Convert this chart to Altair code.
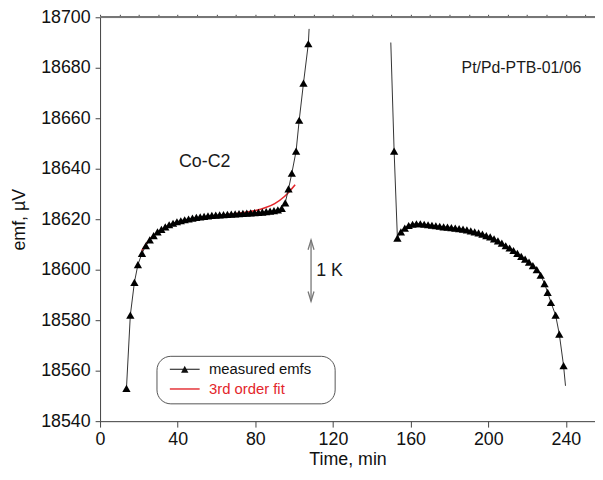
import altair as alt
import pandas as pd

FONT = "Liberation Sans"
RED = "#e3262b"

# ---- measured emfs, first segment (Co-C2 melt), time in min / emf in µV ----
left_t = [13.6, 15.6, 17.7, 19.5, 21.6, 23.6, 25.6, 27.6, 29.6, 31.6, 33.6, 35.6,
          37.6, 39.6, 41.6, 43.6, 45.6, 47.6, 49.6, 51.6, 53.6, 55.6, 57.6, 59.6,
          61.6, 63.6, 65.6, 67.6, 69.6, 71.6, 73.6, 75.6, 77.6, 79.6, 81.6, 83.6,
          85.6, 87.6, 89.6, 91.6, 93.6, 95.4, 97.1, 98.8, 101.0, 102.6, 104.8, 107.3]
left_emf = [18553, 18582, 18595, 18602, 18606.5, 18609.5, 18611.8, 18613.5, 18615,
            18616, 18617, 18617.8, 18618.4, 18619, 18619.4, 18619.8, 18620.1, 18620.4,
            18620.7, 18620.9, 18621.1, 18621.3, 18621.5, 18621.6, 18621.7, 18621.8,
            18621.9, 18622, 18622.1, 18622.2, 18622.3, 18622.4, 18622.5, 18622.6,
            18622.7, 18622.8, 18623, 18623.2, 18623.4, 18623.7, 18624.3, 18626.5,
            18632, 18638.2, 18647, 18659.2, 18673.9, 18689.5]
left_tail_t = [107.7]
left_tail_emf = [18695.4]

# ---- measured emfs, second segment (freeze) ----
right_t = [151.5, 153.2, 155.0, 157.0, 159.0, 161.0, 163.0, 165.0, 167.0, 169.0,
           171.0, 173.0, 175.0, 177.0, 179.0, 181.0, 183.0, 185.0, 187.0, 189.0,
           191.0, 193.0, 195.0, 197.0, 199.0, 201.0, 203.0, 205.0, 207.0, 209.0,
           211.0, 213.0, 215.0, 217.0, 219.0, 221.0, 223.0, 225.0, 227.0, 229.0,
           230.6, 232.3, 234.7, 236.6, 238.8]
right_emf = [18647, 18612.5, 18615, 18616.5, 18617.5, 18618, 18618.2, 18618.2, 18618,
             18617.8, 18617.6, 18617.4, 18617.2, 18617, 18616.9, 18616.7, 18616.5,
             18616.3, 18616.1, 18615.8, 18615.4, 18615, 18614.6, 18614.1, 18613.5,
             18613, 18612.2, 18611.4, 18610.5, 18609.5, 18608.6, 18607.6, 18606.5,
             18605.3, 18604.2, 18603, 18601.6, 18600, 18597.8, 18594.5, 18591, 18587,
             18582, 18574.5, 18562]
right_head_t = [149.8]
right_head_emf = [18690]
right_tail_t = [239.8]
right_tail_emf = [18554]

# ---- 3rd order fit ----
fit_t = [21.5, 25, 30, 35, 40, 45, 50, 55, 60, 65, 70, 75, 80, 85, 90, 95, 100.5]
fit_emf = [18607.5, 18611.5, 18615, 18617.3, 18618.8, 18619.8, 18620.5, 18621,
           18621.4, 18621.8, 18622.2, 18622.7, 18623.4, 18624.5, 18626.2, 18629, 18633.7]

# ---- axes ----
x_major = [0, 40, 80, 120, 160, 200, 240]
x_minor = list(range(0, 256, 10))
y_major = list(range(18540, 18701, 20))
y_minor = list(range(18540, 18701, 10))

# ---- annotations ----
series_names = ["measured emfs", "3rd order fit"]
ann_text = ["Co-C2", "Pt/Pd-PTB-01/06"]
ann_t = [53.9, 217.1]
ann_emf = [18642.5, 18679.7]
ann_size = [18, 16]
k_text = ["1 K"]
k_t = [111.4]
k_emf = [18599.3]
arrow_t = [108.7]
arrow_lo = [18587.5]
arrow_hi = [18611.8]

# ---- tables ----
line_df = pd.concat([
    pd.DataFrame({"t": left_t + left_tail_t, "emf": left_emf + left_tail_emf, "seg": "a"}),
    pd.DataFrame({"t": right_head_t + right_t + right_tail_t,
                  "emf": right_head_emf + right_emf + right_tail_emf, "seg": "b"}),
])
marker_df = pd.DataFrame({"t": left_t + right_t, "emf": left_emf + right_emf})
fit_df = pd.DataFrame({"t": fit_t, "emf": fit_emf})
ann_df = pd.DataFrame({"t": ann_t, "emf": ann_emf, "label": ann_text, "fs": ann_size})
k_df = pd.DataFrame({"t": k_t, "emf": k_emf, "label": k_text})
arrow_df = pd.DataFrame({"t": arrow_t, "lo": arrow_lo, "hi": arrow_hi})
legend_df = pd.DataFrame({"series": series_names})

xs = alt.Scale(domain=[0, 255], nice=False, zero=False)
ys = alt.Scale(domain=[18540, 18700], nice=False, zero=False)
AX = "#444"

x_axis_major = alt.Axis(values=x_major, title="Time, min", grid=False, tickSize=6,
                        labelFontSize=18, titleFontSize=18, labelFont=FONT, titleFont=FONT,
                        titleFontWeight="normal", labelColor="#111", titleColor="#111",
                        domainColor=AX, tickColor=AX, labelPadding=4, titlePadding=2,
                        labelFlush=False)
y_axis_major = alt.Axis(values=y_major, title="emf, µV", grid=False, tickSize=5,
                        labelFontSize=18, titleFontSize=18, labelFont=FONT, titleFont=FONT,
                        titleFontWeight="normal", labelColor="#111", titleColor="#111",
                        domainColor=AX, tickColor=AX, labelPadding=5, titlePadding=12,
                        labelFlush=False, format="d")
x_axis_minor = alt.Axis(values=x_minor, title=None, labels=False, domain=False, grid=False,
                        tickSize=3, tickColor=AX)
y_axis_minor = alt.Axis(values=y_minor, title=None, labels=False, domain=False, grid=False,
                        tickSize=3, tickColor=AX)

lines = alt.Chart(line_df).mark_line(color="#333", strokeWidth=1).encode(
    x=alt.X("t:Q", scale=xs, axis=x_axis_major),
    y=alt.Y("emf:Q", scale=ys, axis=y_axis_major),
    detail="seg:N",
)
markers = alt.Chart(marker_df).mark_point(shape="triangle-up", filled=True, size=70,
                                          color="black", opacity=1).encode(
    x=alt.X("t:Q", scale=xs, axis=x_axis_minor),
    y=alt.Y("emf:Q", scale=ys, axis=y_axis_minor),
)
fit = alt.Chart(fit_df).mark_line(color=RED, strokeWidth=1.6, interpolate="monotone").encode(
    x=alt.X("t:Q", scale=xs, axis=None),
    y=alt.Y("emf:Q", scale=ys, axis=None),
)
top_border = alt.Chart(fit_df).mark_rule(color="#777", strokeWidth=1.4).encode(
    y=alt.YDatum(18700, scale=ys, axis=None),
)
ann = alt.Chart(ann_df).mark_text(font=FONT, color="#1a1a1a", align="center",
                                  baseline="middle").encode(
    x=alt.X("t:Q", scale=xs, axis=None),
    y=alt.Y("emf:Q", scale=ys, axis=None),
    text="label:N",
    size=alt.Size("fs:Q", scale=None),
)
k_lab = alt.Chart(k_df).mark_text(font=FONT, color="#1a1a1a", align="left",
                                  baseline="middle", fontSize=18).encode(
    x=alt.X("t:Q", scale=xs, axis=None),
    y=alt.Y("emf:Q", scale=ys, axis=None),
    text="label:N",
)
arrow_rule = alt.Chart(arrow_df).mark_rule(color="#777", strokeWidth=1.3).encode(
    x=alt.X("t:Q", scale=xs, axis=None),
    y=alt.Y("lo:Q", scale=ys, axis=None),
    y2="hi:Q",
)
arrow_up = alt.Chart(arrow_df).mark_point(shape="M-1,3.3L0,0L1,3.3", filled=False, size=36,
                                          color="#777", strokeWidth=1.3, opacity=1).encode(
    x=alt.X("t:Q", scale=xs, axis=None),
    y=alt.Y("hi:Q", scale=ys, axis=None),
)
arrow_dn = alt.Chart(arrow_df).mark_point(shape="M-1,-3.3L0,0L1,-3.3", filled=False, size=36,
                                          color="#777", strokeWidth=1.3, opacity=1).encode(
    x=alt.X("t:Q", scale=xs, axis=None),
    y=alt.Y("lo:Q", scale=ys, axis=None),
)

sym_measured = "M0,-0.08L4.3,-0.08L4.3,0.08L0,0.08Z M1.62,0.5L2.15,-0.5L2.68,0.5Z"
sym_fit = "M0,-0.1L4.3,-0.1L4.3,0.1L0,0.1Z"
leg = alt.Legend(
    title="x", titleOrient="right", titleOpacity=0, titleFontSize=10, titlePadding=12,
    orient="none", legendX=57, legendY=342, strokeColor="#555",
    cornerRadius=14, padding=6, rowPadding=4, symbolSize=196, symbolOpacity=1,
    symbolStrokeWidth=0, labelFontSize=15, labelFont=FONT, labelOffset=32,
    labelColor=alt.ExprRef("datum.label == '3rd order fit' ? '" + RED + "' : '#111'"),
)
legend_layer = alt.Chart(legend_df).mark_point(filled=True, opacity=0, size=196).encode(
    color=alt.Color("series:N", scale=alt.Scale(domain=series_names, range=["#111", RED]),
                    legend=leg),
    shape=alt.Shape("series:N", scale=alt.Scale(domain=series_names,
                                                range=[sym_measured, sym_fit]), legend=leg),
)

chart = alt.layer(
    top_border, fit, lines, markers, ann, k_lab, arrow_rule, arrow_up, arrow_dn, legend_layer
).resolve_axis(x="independent", y="independent").properties(
    width=500, height=408,
    autosize=alt.AutoSizeParams(type="none"),
    padding={"left": 93, "top": 7, "right": 0, "bottom": 50},
).configure_view(stroke=None).configure(background="white")

chart.save("out.html", embed_options={"renderer": "svg", "actions": False})
